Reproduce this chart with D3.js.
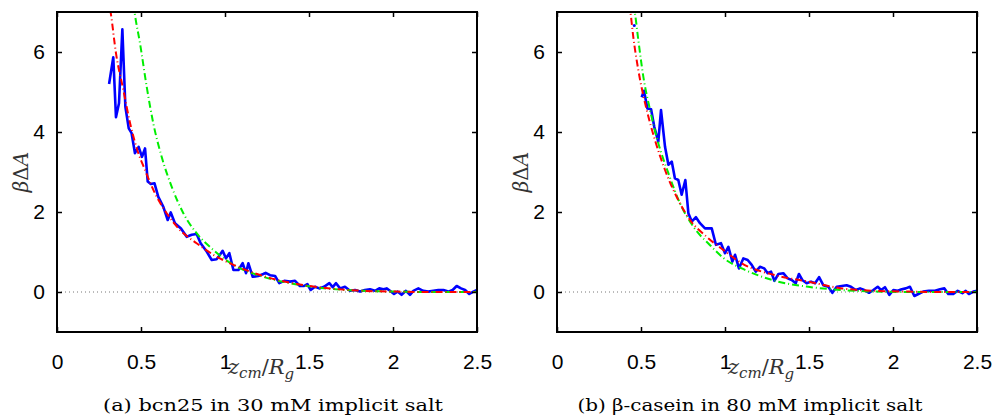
<!DOCTYPE html>
<meta charset="utf-8">
<style>
  body { margin: 0; background: #fff; }
  .tick text { font-family: "Liberation Sans", Arial, sans-serif; font-size: 21px; fill: #000; }
  .math { font-family: "DejaVu Serif", "Liberation Serif", serif; }
  .caption { font-family: "DejaVu Serif", "Liberation Serif", serif; font-size: 17px; }
</style>
<svg width="997" height="418"></svg>
<script src="https://d3js.org/d3.v7.min.js"></script>
<script>
  // x ticks and y ticks (shared by both panels)
  var xTicks = [0, 0.5, 1, 1.5, 2, 2.5];
  var yTicks = [0, 2, 4, 6];

  // (a) bcn25 in 30 mM implicit salt: [z_cm/R_g, beta*dA]
  var bcnPmf = [[0.31,5.2],[0.335,5.87],[0.351,4.37],[0.369,4.72],[0.389,6.57],[0.407,4.63],[0.427,4.09],[0.444,3.97],
    [0.464,3.47],[0.486,3.63],[0.506,3.38],[0.524,3.59],[0.540,2.76],[0.558,2.70],[0.580,2.72],[0.603,2.38],
    [0.633,2.13],[0.659,1.80],[0.677,1.99],[0.702,1.72],[0.738,1.59],[0.772,1.38],[0.802,1.43],[0.831,1.45],
    [0.855,1.22],[0.891,1.01],[0.921,0.80],[0.950,0.82],[0.970,0.93],[0.986,1.03],[1.006,0.84],[1.026,0.97],
    [1.05,0.55],[1.08,0.55],[1.105,0.72],[1.125,0.47],[1.139,0.72],[1.165,0.38],[1.198,0.40],[1.228,0.45],
    [1.242,0.48],[1.268,0.42],[1.298,0.40],[1.323,0.22],[1.353,0.28],[1.387,0.26],[1.417,0.28],[1.446,0.15],
    [1.470,0.15],[1.490,0.20],[1.510,0.05],[1.536,0.13],[1.561,0.09],[1.589,0.13],[1.621,0.22],[1.641,0.12],
    [1.661,0.22],[1.685,0.09],[1.714,0.13],[1.744,0.03],[1.774,0.05],[1.804,0.01],[1.833,0.05],[1.863,0.07],
    [1.893,0.03],[1.918,0.09],[1.943,0.07],[1.962,0.09],[1.982,0.03],[2.006,-0.05],[2.027,0.01],[2.051,-0.07],
    [2.077,0.03],[2.101,-0.07],[2.121,0.03],[2.151,0.09],[2.180,0.03],[2.210,0.01],[2.240,0.03],[2.270,0.05],
    [2.30,0.05],[2.329,0.01],[2.355,0.05],[2.379,0.15],[2.405,0.09],[2.429,0.05],[2.454,-0.05],[2.478,0.01],[2.50,0.05]];
  var bcnFitRed = [[0.30,7.4],[0.320,6.97],[0.351,5.97],[0.395,5.05],[0.435,4.22],[0.478,3.55],[0.524,3.05],[0.583,2.47],
    [0.653,1.97],[0.732,1.55],[0.831,1.22],[0.931,0.93],[1.05,0.68],[1.227,0.40],[1.427,0.20],[1.625,0.09],
    [1.82,0.03],[2.02,0.01],[2.2,0.0],[2.5,0.0]];
  var bcnFitGreen = [[0.455,7.2],[0.464,6.93],[0.494,6.22],[0.534,5.13],[0.573,4.22],[0.623,3.38],[0.683,2.63],
    [0.752,1.97],[0.831,1.47],[0.931,1.05],[1.05,0.68],[1.228,0.38],[1.427,0.19],[1.625,0.08],[1.82,0.03],
    [2.02,0.01],[2.2,0.0],[2.5,0.0]];

  // (b) beta-casein in 80 mM implicit salt
  var casPmf = [[0.504,4.87],[0.518,5.03],[0.538,4.59],[0.560,4.57],[0.579,4.13],[0.603,3.76],[0.619,4.55],[0.643,3.63],
    [0.663,3.18],[0.683,3.26],[0.702,2.84],[0.722,2.80],[0.742,2.43],[0.764,2.80],[0.782,1.97],[0.802,1.76],
    [0.827,1.87],[0.851,1.72],[0.881,1.59],[0.921,1.59],[0.946,1.18],[0.976,1.22],[1.0,0.97],[1.02,1.13],
    [1.044,0.76],[1.06,0.93],[1.083,0.59],[1.109,0.84],[1.135,0.80],[1.159,0.68],[1.183,0.51],[1.208,0.63],
    [1.234,0.59],[1.254,0.47],[1.274,0.51],[1.294,0.28],[1.318,0.45],[1.347,0.47],[1.373,0.34],[1.397,0.30],
    [1.421,0.22],[1.440,0.45],[1.460,0.30],[1.486,0.22],[1.512,0.26],[1.536,0.22],[1.560,0.37],[1.585,0.17],
    [1.615,0.13],[1.639,-0.02],[1.665,0.13],[1.695,0.15],[1.724,0.17],[1.750,0.13],[1.778,0.05],[1.804,0.09],
    [1.829,0.05],[1.857,-0.02],[1.883,0.05],[1.909,0.13],[1.929,0.05],[1.952,0.12],[1.978,-0.07],[2.002,0.05],
    [2.028,0.03],[2.052,0.07],[2.076,0.09],[2.101,0.13],[2.127,-0.10],[2.151,-0.05],[2.180,0.01],[2.214,0.03],
    [2.25,0.03],[2.280,0.07],[2.306,0.09],[2.329,-0.05],[2.359,-0.05],[2.385,0.03],[2.413,-0.03],[2.433,0.03],
    [2.452,-0.05],[2.478,0.01],[2.504,0.03]];
  var casStray = [[0.46,6.66]];
  var casFitRed = [[0.43,7.2],[0.438,6.97],[0.454,6.38],[0.484,5.55],[0.534,4.55],[0.583,3.80],[0.643,3.05],
    [0.712,2.38],[0.792,1.80],[0.891,1.38],[0.99,1.05],[1.099,0.72],[1.298,0.42],[1.496,0.26],[1.695,0.09],
    [1.89,0.03],[2.1,0.01],[2.3,0.0],[2.5,0.0]];
  var casFitGreen = [[0.455,7.2],[0.464,6.97],[0.484,6.3],[0.514,5.38],[0.554,4.55],[0.603,3.72],[0.663,2.97],
    [0.732,2.22],[0.812,1.63],[0.911,1.17],[1.0,0.82],[1.1,0.59],[1.298,0.28],[1.496,0.13],[1.695,0.05],
    [1.9,0.01],[2.1,0.0],[2.5,0.0]];

  var captions = ["(a) bcn25 in 30 mM implicit salt", "(b) \u03b2-casein in 80 mM implicit salt"];

  var svg = d3.select("svg");
  var width = 420, height = 320;

  var x = d3.scaleLinear().domain([0, 2.5]).range([0, width]),
      y = d3.scaleLinear().domain([-1, 7]).range([height, 0]);

  var line = d3.line().x(function(d) { return x(d[0]); }).y(function(d) { return y(d[1]); });
  var smooth = d3.line().curve(d3.curveMonotoneX)
      .x(function(d) { return x(d[0]); }).y(function(d) { return y(d[1]); });

  var panels = [
    { left: 57, pmf: bcnPmf, red: bcnFitRed, green: bcnFitGreen, stray: [], caption: captions[0], capX: 273 },
    { left: 557, pmf: casPmf, red: casFitRed, green: casFitGreen, stray: casStray, caption: captions[1], capX: 750 }
  ];

  panels.forEach(function(p, i) {
    var g = svg.append("g").attr("transform", "translate(" + p.left + ",12)");

    g.append("clipPath").attr("id", "clip" + i)
      .append("rect").attr("width", width).attr("height", height);

    var plot = g.append("g").attr("clip-path", "url(#clip" + i + ")");

    // zero reference
    plot.append("line")
      .attr("x1", 0).attr("x2", width).attr("y1", y(0)).attr("y2", y(0))
      .attr("stroke", "#777").attr("stroke-width", 1).attr("stroke-dasharray", "1,3");

    plot.append("path").datum(p.pmf)
      .attr("fill", "none").attr("stroke", "#0000ff").attr("stroke-width", 2.6)
      .attr("stroke-linejoin", "round").attr("d", line);

    plot.selectAll(".stray").data(p.stray).enter().append("circle")
      .attr("cx", function(d) { return x(d[0]); }).attr("cy", function(d) { return y(d[1]); })
      .attr("r", 1.5).attr("fill", "#0000ff");

    plot.append("path").datum(p.green)
      .attr("fill", "none").attr("stroke", "#00ee00").attr("stroke-width", 2)
      .attr("stroke-dasharray", "7,3,1,3").attr("d", smooth);

    plot.append("path").datum(p.red)
      .attr("fill", "none").attr("stroke", "#ff0000").attr("stroke-width", 2)
      .attr("stroke-dasharray", "7,3,1,3").attr("d", smooth);

    // axes with inward ticks, matlab style box
    g.append("g").attr("class", "axis").attr("transform", "translate(0," + height + ")")
      .call(d3.axisBottom(x).tickValues(xTicks).tickFormat(d3.format("")).tickSizeInner(-5).tickSizeOuter(0).tickPadding(22))
      .call(function(a) { a.select(".domain").remove(); });
    g.append("g").attr("class", "axis")
      .call(d3.axisLeft(y).tickValues(yTicks).tickSizeInner(-5).tickSizeOuter(0).tickPadding(12))
      .call(function(a) { a.select(".domain").remove(); });
    g.append("g")
      .call(d3.axisTop(x).tickValues(xTicks).tickFormat("").tickSizeInner(-5).tickSizeOuter(0))
      .call(function(a) { a.select(".domain").remove(); });
    g.append("g").attr("transform", "translate(" + width + ",0)")
      .call(d3.axisRight(y).tickValues(yTicks).tickFormat("").tickSizeInner(-5).tickSizeOuter(0))
      .call(function(a) { a.select(".domain").remove(); });
    g.selectAll(".tick line").attr("stroke", "#000").attr("stroke-width", 1.5);
    g.selectAll(".tick text").attr("fill", "#000");

    g.append("rect").attr("width", width).attr("height", height)
      .attr("fill", "none").attr("stroke", "#000").attr("stroke-width", 2);

    // x label z_cm / R_g
    var xl = g.append("text").attr("class", "math").attr("x", 171).attr("y", 362)
      .attr("font-size", 21).attr("fill", "#333").attr("font-style", "italic");
    xl.append("tspan").text("z");
    xl.append("tspan").attr("font-size", 15).attr("dy", 4).text("cm");
    xl.append("tspan").attr("dy", -4).attr("font-style", "normal").text("/");
    xl.append("tspan").text("R");
    xl.append("tspan").attr("font-size", 15).attr("dy", 5).text("g");

    // y label beta Delta A
    var yl = g.append("text").attr("class", "math")
      .attr("transform", "translate(-29," + (height / 2) + ") rotate(-90)")
      .attr("text-anchor", "middle").attr("font-size", 20).attr("fill", "#333");
    yl.append("tspan").attr("font-style", "italic").text("\u03b2");
    yl.append("tspan").text("\u0394");
    yl.append("tspan").attr("font-style", "italic").text("A");

    svg.append("text").attr("class", "caption")
      .attr("x", p.capX).attr("y", 411).attr("text-anchor", "middle")
      .attr("textLength", i === 0 ? 340 : 345).attr("lengthAdjust", "spacingAndGlyphs")
      .text(p.caption);
  });
</script>
